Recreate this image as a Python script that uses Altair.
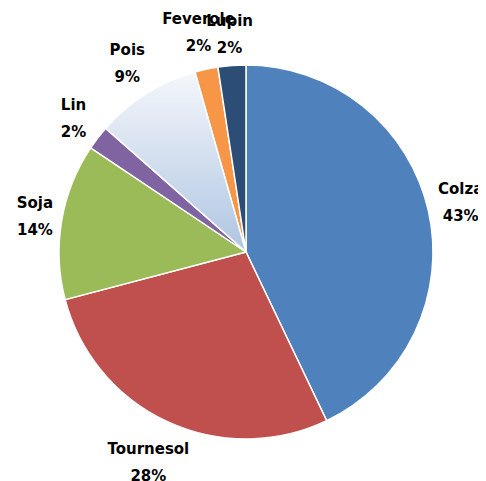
import altair as alt
import pandas as pd

cultures = ["Colza", "Tournesol", "Soja", "Lin", "Pois", "Feverole", "Lupin"]
parts = [42.9, 28.0, 13.5, 2.1, 9.1, 2.0, 2.4]
pct_labels = ["43%", "28%", "14%", "2%", "9%", "2%", "2%"]
colors = ["#4F81BD", "#C0504D", "#9BBB59", "#8064A2", "#C9D7EB", "#F79646", "#2C4D75"]

df = pd.DataFrame({
    "culture": cultures,
    "part": parts,
    "pct": pct_labels,
    "order": list(range(len(cultures))),
})
df["label"] = df["culture"] + "\n" + df["pct"]

total = float(sum(parts))
tau = 6.283185307179586
R = 187

base = alt.Chart(df).transform_window(
    v1="sum(part)", sort=[alt.SortField("order")], frame=[None, 0]
).transform_calculate(
    v0="datum.v1 - datum.part",
    mid="datum.v1 - datum.part / 2",
)

theta_scale = alt.Scale(domain=[0, total], range=[0, tau])
cx = alt.value(238)
cy = alt.value(244)

arcs = base.transform_filter(alt.datum.culture != "Pois").mark_arc(
    outerRadius=R, stroke="white", strokeWidth=1.5
).encode(
    theta=alt.Theta("v0:Q", scale=theta_scale),
    theta2="v1:Q",
    color=alt.Color("culture:N", scale=alt.Scale(domain=cultures, range=colors), legend=None),
    x=cx, y=cy,
)

pois = base.transform_filter(alt.datum.culture == "Pois").mark_arc(
    outerRadius=R, stroke="white", strokeWidth=1.5,
    fill=alt.Gradient(
        gradient="linear",
        stops=[alt.GradientStop(color="#F4F7FB", offset=0),
               alt.GradientStop(color="#AFC5E2", offset=1)],
        x1=0, x2=0, y1=0, y2=1,
    ),
).encode(
    theta=alt.Theta("v0:Q", scale=theta_scale),
    theta2="v1:Q",
    x=cx, y=cy,
)

labels = base.transform_calculate(
    ang=f"datum.mid / {total} * {tau}",
    w="length(datum.culture) * 10",
).transform_calculate(
    rad=f"{R} + 3 + abs(sin(datum.ang)) * datum.w / 2 + abs(cos(datum.ang)) * 26",
).mark_text(
    font="DejaVu Sans", fontSize=15, fontWeight="bold", dy=-14,
    color="black", lineBreak="\n", lineHeight=27, align="center", baseline="middle",
).encode(
    theta=alt.Theta("mid:Q", scale=theta_scale),
    radius=alt.Radius("rad:Q", scale=None),
    text="label:N",
    x=cx, y=cy,
)

chart = alt.layer(arcs, pois, labels).properties(
    width=470, height=473, padding=0, autosize=alt.AutoSizeParams(type="none")
).configure_view(stroke=None)

chart.save("out.html", embed_options={"renderer": "svg", "actions": False})
